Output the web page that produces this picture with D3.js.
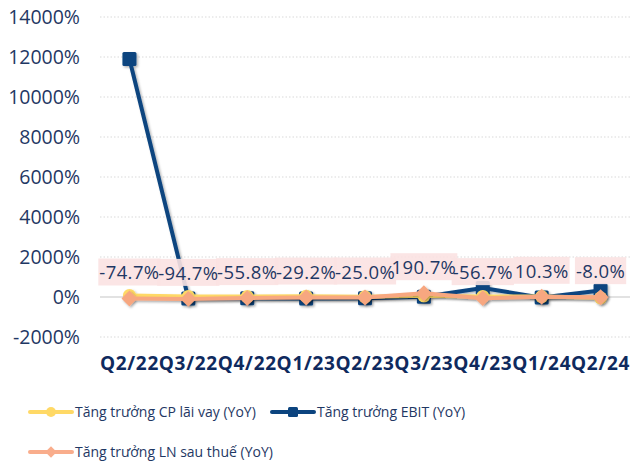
<!DOCTYPE html>
<html>
<head>
<meta charset="utf-8">
<script src="https://cdn.jsdelivr.net/npm/d3@7"></script>
<style>
  html, body { margin: 0; padding: 0; background: #ffffff; }
  svg { display: block; }
</style>
</head>
<body>
<div id="chart"></div>
<script>
const categories = ["Q2/22","Q3/22","Q4/22","Q1/23","Q2/23","Q3/23","Q4/23","Q1/24","Q2/24"];
const cpLaiVay = [80, 30, 20, 40, 10, 60, 30, 20, -40];
const ebit = [11900, -70, -60, -75, -60, 10, 450, -30, 320];
const lnSauThue = [-74.7, -94.7, -55.8, -29.2, -25.0, 190.7, -56.7, 10.3, -8.0];
const yTicks = [-2000, 0, 2000, 4000, 6000, 8000, 10000, 12000, 14000];
const seriesNames = ["Tăng trưởng CP lãi vay (YoY)", "Tăng trưởng EBIT (YoY)", "Tăng trưởng LN sau thuế (YoY)"];

const W = 639, H = 462;
const m = { left: 100, right: 9, top: 17, bottom: 125 };
const svg = d3.select("#chart").append("svg").attr("width", W).attr("height", H);

const defs = svg.append("defs");
const f = defs.append("filter").attr("id", "sh").attr("x", "-10%").attr("y", "-10%").attr("width", "130%").attr("height", "130%");
f.append("feDropShadow").attr("dx", 1.5).attr("dy", 1.5).attr("stdDeviation", 1.2).attr("flood-color", "#000").attr("flood-opacity", 0.3);

const x = d3.scaleBand().domain(categories).range([m.left, W - m.right]);
const y = d3.scaleLinear().domain([-2000, 14000]).range([337, 17]);

const textColor = "#1f3864";
const font = "'Open Sans', sans-serif";

// gridlines
svg.append("g").selectAll("line").data(yTicks).join("line")
  .attr("x1", m.left).attr("x2", W - m.right)
  .attr("y1", d => y(d)).attr("y2", d => y(d))
  .attr("stroke", "#d9d9d9")
  .attr("stroke-width", d => d === 0 ? 1.3 : 1)
  .attr("stroke-dasharray", d => d === 0 ? null : "1.5,2");

// y axis
const yAxis = d3.axisLeft(y).tickValues(yTicks).tickSize(0).tickPadding(0).tickFormat(d => d + "%");
const gy = svg.append("g").attr("transform", "translate(80,0)").call(yAxis);
gy.select(".domain").remove();
gy.selectAll("text").attr("font-family", font).attr("font-size", 19.5).attr("fill", textColor).attr("dy", "0.34em");

// x axis
const xAxis = d3.axisBottom(x).tickSize(0).tickPadding(0);
const gx = svg.append("g").attr("transform", "translate(0,356)").call(xAxis);
gx.select(".domain").remove();
gx.selectAll("text").attr("font-family", font).attr("font-size", 19).attr("letter-spacing", 0.7).attr("font-weight", "bold").attr("fill", "#0f2a5e").attr("dy", "0.71em");

const cx = d => x(d) + x.bandwidth() / 2;
const line = d3.line().x(d => cx(d.c)).y(d => y(d.v));

const series = [
  { name: seriesNames[0], vals: cpLaiVay, color: "#ffd966", marker: "circle" },
  { name: seriesNames[1], vals: ebit, color: "#0c447f", marker: "square" },
  { name: seriesNames[2], vals: lnSauThue, color: "#f7a780", marker: "diamond" }
];
const drawOrder = [series[1], series[0], series[2]];

function marker(g, type, color, px, py, size) {
  if (type === "circle") {
    g.append("circle").attr("cx", px).attr("cy", py).attr("r", size / 2).attr("fill", color);
  } else if (type === "square") {
    g.append("rect").attr("x", px - size / 2).attr("y", py - size / 2).attr("width", size).attr("height", size).attr("rx", 1.5).attr("fill", color);
  } else {
    g.append("path").attr("d", d3.symbol(d3.symbolDiamond2, size * size * 0.5)()).attr("transform", `translate(${px},${py})`).attr("fill", color);
  }
}

drawOrder.forEach(s => {
  const data = categories.map((c, i) => ({ c, v: s.vals[i] }));
  const g = svg.append("g").attr("filter", "url(#sh)");
  g.append("path").datum(data).attr("d", line).attr("fill", "none").attr("stroke", s.color).attr("stroke-width", 4).attr("stroke-linejoin", "round");
  const sz = s.marker === "square" ? 14 : (s.marker === "circle" ? 13 : 18);
  data.forEach(d => marker(g, s.marker, s.color, cx(d.c), y(d.v), sz));
});

// data labels for LN sau thuế
const lg = svg.append("g");
lnSauThue.forEach((v, i) => {
  const c = categories[i];
  const t = lg.append("text").attr("x", cx(c)).attr("y", y(v) - 19)
    .attr("text-anchor", "middle").attr("font-family", font).attr("font-size", 18.5).attr("letter-spacing", 0.4)
    .attr("fill", textColor).text(v.toFixed(1) + "%");
  const bb = t.node().getBBox();
  lg.insert("rect", "text").attr("x", bb.x - 1).attr("y", y(v) - 40).attr("width", bb.width + 2).attr("height", 27).attr("fill", "#fbe2e2").attr("opacity", 0.9);
});

// legend
const legendItems = [
  { s: series[0], lx: 30, ly: 412 },
  { s: series[1], lx: 272, ly: 412 },
  { s: series[2], lx: 30, ly: 452 }
];
const legendColors = ["#ffd966", "#0c447f", "#f9ad8c"];
legendItems.forEach((it, i) => {
  const g = svg.append("g");
  const col = legendColors[i];
  g.append("line").attr("x1", it.lx).attr("x2", it.lx + 42).attr("y1", it.ly).attr("y2", it.ly).attr("stroke", col).attr("stroke-width", 4).attr("stroke-linecap", "round");
  const sz = it.s.marker === "square" ? 10 : (it.s.marker === "circle" ? 10 : 13);
  marker(g, it.s.marker, col, it.lx + 21, it.ly, sz);
  g.append("text").attr("x", it.lx + 45).attr("y", it.ly).attr("dy", "0.35em")
    .attr("font-family", font).attr("font-size", 14).attr("fill", textColor).text(it.s.name);
});
</script>
</body>
</html>
